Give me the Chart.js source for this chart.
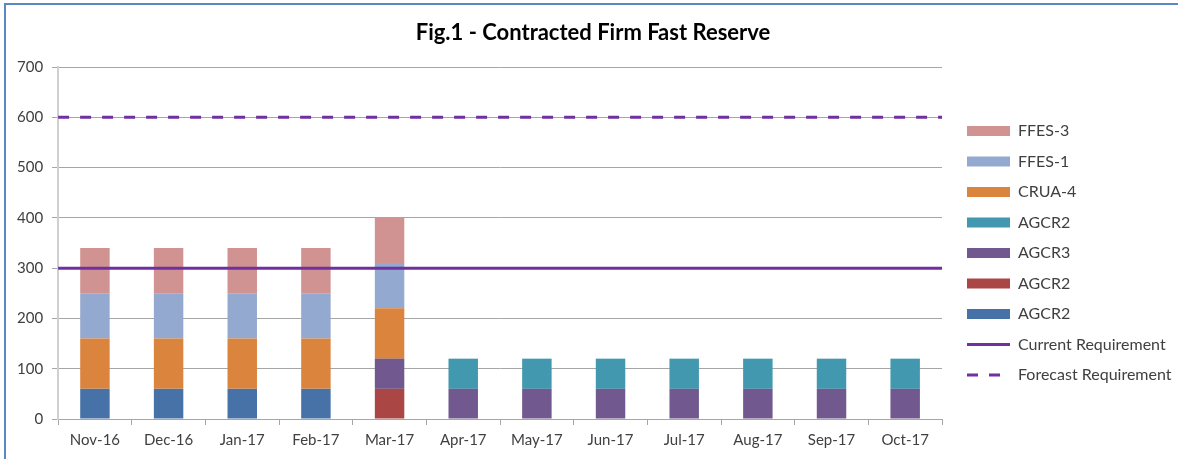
<!DOCTYPE html>
<html>
<head>
<meta charset="utf-8">
<script src="https://cdn.jsdelivr.net/npm/chart.js@4"></script>
<style>
  html, body { margin: 0; padding: 0; background: #fff; }
  #wrap { position: relative; width: 1178px; height: 459px; overflow: hidden; }
  #frame {
    position: absolute; left: 4px; top: 3px; width: 1200px; height: 500px;
    border-left: 2px solid #5b87c2; border-top: 2px solid #5b87c2;
  }
  canvas { position: absolute; left: 0; top: 0; }
</style>
</head>
<body>
<div id="wrap">
  <div id="frame"></div>
  <canvas id="firmFastReserveChart" width="1178" height="459"></canvas>
</div>
<script>
// Chart values
const months = ['Nov-16', 'Dec-16', 'Jan-17', 'Feb-17', 'Mar-17', 'Apr-17', 'May-17',
                'Jun-17', 'Jul-17', 'Aug-17', 'Sep-17', 'Oct-17'];
const agcr2Blue = [60, 60, 60, 60, 0, 0, 0, 0, 0, 0, 0, 0];
const agcr2Red  = [0, 0, 0, 0, 60, 0, 0, 0, 0, 0, 0, 0];
const agcr3     = [0, 0, 0, 0, 60, 60, 60, 60, 60, 60, 60, 60];
const agcr2Teal = [0, 0, 0, 0, 0, 60, 60, 60, 60, 60, 60, 60];
const crua4     = [100, 100, 100, 100, 100, 0, 0, 0, 0, 0, 0, 0];
const ffes1     = [90, 90, 90, 90, 90, 0, 0, 0, 0, 0, 0, 0];
const ffes3     = [90, 90, 90, 90, 90, 0, 0, 0, 0, 0, 0, 0];
const currentRequirement = 300;
const forecastRequirement = 600;
const yTicks = [0, 100, 200, 300, 400, 500, 600, 700];

const FONT = 'Lato, "Open Sans", sans-serif';
const TEXT = '#404040';
const LINE_PURPLE = '#7030a0';

// requirement lines run edge to edge, so they sit on a hidden linear x axis
const spanPoints = value => Array.from({length: months.length + 1}, (_, i) => ({x: i, y: value}));

function bar(label, data, color) {
    return { type: 'bar', label, data, backgroundColor: color, borderWidth: 0, order: 1, grouped: false };
}

const datasets = [
    bar('AGCR2', agcr2Blue, '#4672a8'),
    bar('AGCR2', agcr2Red, '#aa4643'),
    bar('AGCR3', agcr3, '#71588f'),
    bar('AGCR2', agcr2Teal, '#4198af'),
    bar('CRUA-4', crua4, '#db843d'),
    bar('FFES-1', ffes1, '#93a9cf'),
    bar('FFES-3', ffes3, '#d19392'),
    {
        type: 'line', label: 'Current Requirement', data: spanPoints(currentRequirement),
        xAxisID: 'xLine', stack: 'cur', order: 0,
        borderColor: LINE_PURPLE, backgroundColor: LINE_PURPLE, borderWidth: 3,
        pointRadius: 0, pointHoverRadius: 0
    },
    {
        type: 'line', label: 'Forecast Requirement', data: spanPoints(forecastRequirement),
        xAxisID: 'xLine', stack: 'fc', order: 0,
        borderColor: LINE_PURPLE, backgroundColor: LINE_PURPLE, borderWidth: 3,
        borderDash: [11, 11], borderCapStyle: 'butt',
        pointRadius: 0, pointHoverRadius: 0
    }
];

// legend: bars top-down (reverse stack), then the two lines
const legendOrder = [6, 5, 4, 3, 2, 1, 0, 7, 8];
const LEGEND_WIDTH = 225.5;

// keep the legend column a fixed width so the plot ends where the original does
const legendWidthPlugin = {
    id: 'legendWidth',
    beforeLayout(chart) {
        const lg = chart.legend;
        if (lg && !lg._fixedWidth) {
            const fit = lg.fit.bind(lg);
            lg.fit = function () { fit(); this.width = LEGEND_WIDTH; };
            lg._fixedWidth = true;
        }
    }
};

new Chart(document.getElementById('firmFastReserveChart'), {
    data: { labels: months, datasets },
    plugins: [legendWidthPlugin],
    options: {
        responsive: false,
        animation: false,
        events: [],
        layout: { padding: { left: 8, right: 0, top: 0, bottom: 4 } },
        datasets: { bar: { barPercentage: 0.4, categoryPercentage: 1.0 } },
        plugins: {
            title: {
                display: true,
                text: 'Fig.1 - Contracted Firm Fast Reserve',
                color: '#000',
                font: { family: FONT, size: 22, weight: 'bold' },
                padding: { top: 20, bottom: 20.6 }
            },
            legend: {
                position: 'right',
                align: 'start',
                title: { display: true, text: '', font: { family: FONT, size: 14 }, padding: { top: 91.7, bottom: 0 } },
                labels: {
                    color: TEXT,
                    font: { family: FONT, size: 16 },
                    usePointStyle: true,
                    pointStyleWidth: 43,
                    boxHeight: 10,
                    padding: 14.5,
                    generateLabels(chart) {
                        const items = Chart.defaults.plugins.legend.labels.generateLabels(chart);
                        items.forEach(it => {
                            const ds = chart.data.datasets[it.datasetIndex];
                            if (ds.type === 'line') {
                                it.pointStyle = 'line';
                                it.lineWidth = 3;
                                it.strokeStyle = ds.borderColor;
                                it.lineDash = ds.borderDash || [];
                            } else {
                                it.pointStyle = 'rect';
                                it.lineWidth = 0;
                            }
                        });
                        return legendOrder.map(i => items.find(it => it.datasetIndex === i));
                    }
                }
            },
            tooltip: { enabled: false }
        },
        scales: {
            x: {
                stacked: true,
                grid: { display: true, drawOnChartArea: false, offset: true, tickLength: 6, color: '#a6a6a6' },
                border: { color: '#a6a6a6', width: 1 },
                ticks: { color: TEXT, font: { family: FONT, size: 15 }, padding: 6, maxRotation: 0 }
            },
            xLine: { type: 'linear', display: false, min: 0, max: months.length },
            y: {
                stacked: true,
                min: 0, max: 700,
                afterBuildTicks: s => { s.ticks = yTicks.map(v => ({value: v})); },
                grid: { color: '#a6a6a6', tickLength: 6, tickColor: '#a6a6a6' },
                border: { color: '#d0d0d0', width: 2 },
                ticks: { color: TEXT, font: { family: FONT, size: 15 }, padding: 9 }
            },
            gap: {
                type: 'linear', position: 'right', display: true,
                grid: { display: false }, border: { display: false }, ticks: { display: false },
                afterFit: s => { s.width = 10.5; }
            }
        }
    }
});
</script>
</body>
</html>
